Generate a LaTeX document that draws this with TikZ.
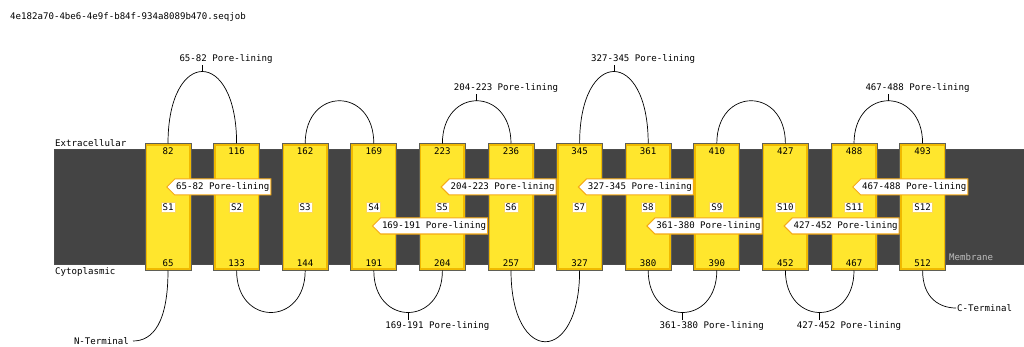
\documentclass[tikz,border=0pt]{standalone}
\usepackage{fontspec}
\newfontfamily\seqfont{DejaVu Sans Mono}
\usepackage{tikz}
\usetikzlibrary{positioning,calc,shapes,shapes.symbols}

\definecolor{helixfill}{RGB}{255,230,45}
\definecolor{helixrim}{RGB}{240,185,0}
\definecolor{helixedge}{RGB}{95,95,85}
\definecolor{bandfill}{RGB}{68,68,68}
\definecolor{tagedge}{RGB}{245,170,20}
\definecolor{segedge}{RGB}{250,215,90}
\definecolor{membranetext}{RGB}{190,190,190}

\begin{document}
\begin{tikzpicture}[
    x=1pt, y=-1pt,
    font=\seqfont\fontsize{9.1}{10}\selectfont,
    helix/.style={rectangle, draw=helixedge, line width=1pt, fill=helixfill, minimum width=46pt, minimum height=126pt, inner sep=0pt,
        path picture={\draw[helixrim, line width=4pt] (path picture bounding box.south west) rectangle (path picture bounding box.north east);}},
    num/.style={inner sep=1pt},
    segbox/.style={rectangle, draw=segedge, fill=white, line width=0.8pt, inner sep=1.5pt},
    poretag/.style={signal, signal to=west, signal pointer angle=90, draw=tagedge, fill=white, line width=1pt, anchor=west, minimum height=16pt, inner xsep=1.5pt, inner ysep=1pt},
    looplabel/.style={inner sep=1pt, anchor=west},
    loopline/.style={line width=0.7pt, black},
    sidetext/.style={inner sep=0pt, anchor=west}
    ]
    \useasboundingbox (0,0) rectangle (1024,347);

    %Title
    \node[sidetext] (title) at (10,17) {4e182a70-4be6-4e9f-b84f-934a8089b470.seqjob};

    %Membrane
    \draw[draw=black!70, fill=bandfill, line width=0.8pt] (54,149) rectangle (1024,264);
    \node[sidetext] (extra) at (55,143) {Extracellular};
    \node[sidetext] (cyto) at (55,272) {Cytoplasmic};
    \node[sidetext, text=membranetext] (memb) at (949,257) {Membrane};

    %Helices
    \foreach \n/\x/\t/\b in {1/168/82/65, 2/236.6/116/133, 3/305.2/162/144, 4/373.8/169/191, 5/442.4/223/204, 6/511/236/257,
                             7/579.6/345/327, 8/648.2/361/380, 9/716.8/410/390, 10/785.4/427/452, 11/854/488/467, 12/922.6/493/512}{
        \node[helix]  (s\n) at (\x,207) {};
        \node[num]    (t\n) at (\x,151) {\t};
        \node[num]    (b\n) at (\x,263) {\b};
        \node[segbox] (g\n) at (\x,207) {S\n};
    }

    %Extracellular loops
    \draw[loopline] (s1.north)  .. controls +(0,-96) and +(0,-96) .. (s2.north);
    \draw[loopline] (s3.north)  .. controls +(0,-57) and +(0,-57) .. (s4.north);
    \draw[loopline] (s5.north)  .. controls +(0,-57) and +(0,-57) .. (s6.north);
    \draw[loopline] (s7.north)  .. controls +(0,-96) and +(0,-96) .. (s8.north);
    \draw[loopline] (s9.north)  .. controls +(0,-57) and +(0,-57) .. (s10.north);
    \draw[loopline] (s11.north) .. controls +(0,-57) and +(0,-57) .. (s12.north);

    %Cytoplasmic loops
    \draw[loopline] (s2.south)  .. controls +(0,56) and +(0,56) .. (s3.south);
    \draw[loopline] (s4.south)  .. controls +(0,56) and +(0,56) .. (s5.south);
    \draw[loopline] (s6.south)  .. controls +(0,95) and +(0,95) .. (s7.south);
    \draw[loopline] (s8.south)  .. controls +(0,56) and +(0,56) .. (s9.south);
    \draw[loopline] (s10.south) .. controls +(0,56) and +(0,56) .. (s11.south);

    %Loop labels
    \coordinate (k1) at (202.3,72);
    \coordinate (k5) at (476.7,101);
    \coordinate (k7) at (613.9,72);
    \coordinate (k11) at (888.3,101);
    \coordinate (k4) at (408.1,312);
    \coordinate (k8) at (682.5,312);
    \coordinate (k10) at (819.7,312);
    \node[looplabel] (l1)  at (178.3,59)  {65-82 Pore-lining};
    \node[looplabel] (l5)  at (452.7,88)  {204-223 Pore-lining};
    \node[looplabel] (l7)  at (589.9,59)  {327-345 Pore-lining};
    \node[looplabel] (l11) at (864.3,88)  {467-488 Pore-lining};
    \node[looplabel] (l4)  at (384.1,326) {169-191 Pore-lining};
    \node[looplabel] (l8)  at (658.5,326) {361-380 Pore-lining};
    \node[looplabel] (l10) at (795.7,326) {427-452 Pore-lining};
    \draw[loopline] (k1) -- (k1 |- l1.south);
    \draw[loopline] (k5) -- (k5 |- l5.south);
    \draw[loopline] (k7) -- (k7 |- l7.south);
    \draw[loopline] (k11) -- (k11 |- l11.south);
    \draw[loopline] (k4) -- (k4 |- l4.north);
    \draw[loopline] (k8) -- (k8 |- l8.north);
    \draw[loopline] (k10) -- (k10 |- l10.north);

    %Termini
    \node[inner xsep=4pt, inner ysep=1pt, anchor=east] (nterm) at (133,341) {N-Terminal};
    \node[inner xsep=1pt, inner ysep=1pt, anchor=west] (cterm) at (956,308) {C-Terminal};
    \draw[loopline] (s1.south) .. controls +(0,52) and +(20,0) .. (nterm.east);
    \draw[loopline] (s12.south) .. controls +(0,28) and +(-16,0) .. (cterm.west);

    %Pore-lining tags
    \node[poretag] (p1)  at (166,187)   {65-82 Pore-lining};
    \node[poretag] (p4)  at (371.8,226) {169-191 Pore-lining};
    \node[poretag] (p5)  at (440.4,187) {204-223 Pore-lining};
    \node[poretag] (p7)  at (577.6,187) {327-345 Pore-lining};
    \node[poretag] (p8)  at (646.2,226) {361-380 Pore-lining};
    \node[poretag] (p10) at (783.4,226) {427-452 Pore-lining};
    \node[poretag] (p11) at (852,187)   {467-488 Pore-lining};
\end{tikzpicture}
\end{document}
